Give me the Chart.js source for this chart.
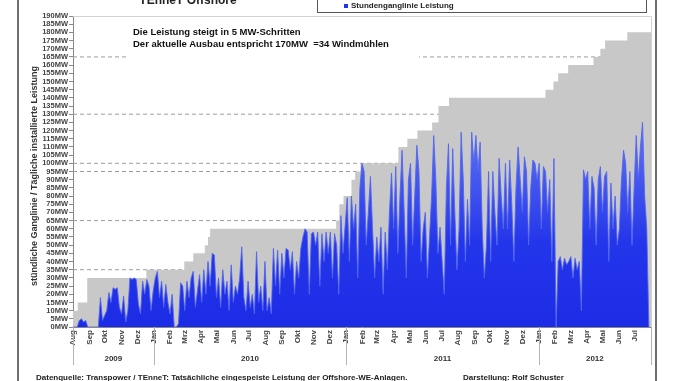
<!DOCTYPE html>
<html>
<head>
<meta charset="utf-8">
<script src="https://cdn.jsdelivr.net/npm/chart.js@4.4.1/dist/chart.umd.min.js"></script>
<style>
body { margin: 0; background: #fff; }
#wrap { position: relative; width: 678px; height: 381px; overflow: hidden; font-family: "Liberation Sans", Arial, sans-serif; font-weight: bold; color: #222; }
canvas { position: absolute; left: 0; top: 0; }
.edge { position: absolute; top: 0; width: 2px; height: 381px; background: #6e6e6e; }
#title { position: absolute; left: 188px; top: -6px; transform: translateX(-50%); font-size: 12px; line-height: 12px; white-space: nowrap; }
#legend { position: absolute; left: 317px; top: -10px; width: 328px; height: 21px; border: 1px solid #555; background: #fff; }
#legend span.txt { position: absolute; left: 33px; top: 10px; font-size: 8px; line-height: 10px; white-space: nowrap; }
#legend span.box { position: absolute; left: 26px; top: 13px; width: 4px; height: 4px; background: #2234e8; }
#note { position: absolute; left: 127px; top: 26px; width: 292px; height: 36px; background: #fff; font-size: 9.5px; line-height: 12px; color: #111; }
#note div { padding-left: 6px; }
#ytitle { position: absolute; left: 34px; top: 176px; transform: translate(-50%, -50%) rotate(-90deg); font-size: 9px; white-space: nowrap; color: #333; }
.foot { position: absolute; top: 373px; font-size: 8px; line-height: 10px; white-space: nowrap; color: #222; }
</style>
</head>
<body>
<div id="wrap">
  <canvas id="chart" width="678" height="381"></canvas>
  <div class="edge" style="left:17px"></div>
  <div class="edge" style="left:655px"></div>
  <div id="title">TEnneT Offshore</div>
  <div id="legend"><span class="box"></span><span class="txt">Stundenganglinie Leistung</span></div>
  <div id="note">
    <div>Die Leistung steigt in 5 MW-Schritten</div>
    <div>Der aktuelle Ausbau entspricht 170MW&nbsp; =34 Windmühlen</div>
  </div>
  <div id="ytitle">stündliche Ganglinie / Tägliche installierte Leistung</div>
  <div class="foot" style="left:36px">Datenquelle: Transpower / TEnneT: Tatsächliche eingespeiste Leistung der Offshore-WE-Anlagen.</div>
  <div class="foot" style="left:463px">Darstellung: Rolf Schuster</div>
</div>
<script>
// days counted from 1 Aug 2009
const totalDays = 1096;
const stepDays = 4;

const monthStarts = [0, 31, 61, 92, 122, 153, 184, 212, 243, 273, 304, 334, 365, 396, 426, 457, 487,
  518, 549, 577, 608, 638, 669, 699, 730, 761, 791, 822, 852, 883, 914, 943, 974, 1004, 1035, 1065];
const monthLabels = ['Aug', 'Sep', 'Okt', 'Nov', 'Dez',
  'Jan', 'Feb', 'Mrz', 'Apr', 'Mai', 'Jun', 'Jul', 'Aug', 'Sep', 'Okt', 'Nov', 'Dez',
  'Jan', 'Feb', 'Mrz', 'Apr', 'Mai', 'Jun', 'Jul', 'Aug', 'Sep', 'Okt', 'Nov', 'Dez',
  'Jan', 'Feb', 'Mrz', 'Apr', 'Mai', 'Jun', 'Jul'];
const yearBounds = [0, 153, 518, 883, 1096];
const yearLabels = ['2009', '2010', '2011', '2012'];

// installed capacity, step changes (day, MW)
const capDays = [0, 9, 27, 139, 211, 228, 250, 256, 260, 499, 505, 513, 528, 535, 545, 617, 634, 653, 681, 693, 713,
  896, 911, 920, 939, 987, 1000, 1009, 1051, 1096];
const capMW = [10, 15, 30, 35, 40, 45, 50, 55, 60, 65, 75, 80, 90, 95, 100, 110, 115, 120, 125, 135, 140,
  145, 150, 155, 160, 165, 170, 175, 180, 180];

// hourly output, one reading every 4 days (MW)
const blueMW = [
  0, 0, 0, 4, 5, 3, 4, 0,            // Aug 09
  0, 0, 0, 0, 0, 18, 4,              // Sep
  7, 10, 21, 15, 24, 23, 24, 12,     // Okt
  8, 19, 3, 10, 30, 29, 30, 29,      // Nov
  14, 8, 28, 20, 29, 25, 10,         // Dez
  22, 30, 34, 18, 28, 12, 26, 15,    // Jan 10
  8, 20, 0, 0, 2, 27, 25,
  10, 28, 18, 30, 34, 12, 22, 32,
  15, 35, 20, 40, 25, 45, 44, 18,
  30, 12, 35, 20, 28, 10, 38,
  15, 25, 20, 30, 49, 18, 10, 28,
  12, 20, 8, 46, 15, 25, 10, 40,
  10, 18, 8, 48, 25, 47, 20,
  45, 30, 48, 47, 35, 46, 20, 40,
  30, 48, 55, 60, 58, 20, 57, 58,
  50, 58, 25, 57, 40, 58, 45,
  58, 30, 57, 50, 20, 68, 45, 62,
  79, 40, 80, 60, 75, 30, 85, 100,   // Jan 11
  95, 50, 70, 92, 60, 30, 55,
  40, 61, 20, 58, 35, 70, 94,
  60, 98, 45, 80, 108, 70, 30, 90,
  100, 50, 80, 111, 95, 40, 60, 70,
  30, 55, 80, 117, 90, 45, 61,
  40, 20, 85, 112, 50, 109, 70, 35,
  60, 119, 90, 40, 78, 50, 119, 100,
  117, 95, 113, 60, 30, 50, 95,
  40, 95, 70, 50, 103, 80, 60, 100,
  60, 102, 75, 40, 85, 110, 90,
  70, 104, 95, 50, 85, 102, 100, 90,
  100, 60, 98, 95, 70, 90, 40, 103,  // Jan 12
  0, 40, 43, 35, 42, 38, 40,
  43, 30, 42, 35, 40, 10, 96, 90,
  95, 60, 92, 85, 50, 90, 98,
  70, 92, 95, 40, 88, 60, 80, 50,
  60, 90, 108, 100, 70, 95, 50, 85,
  117, 90, 110, 125, 80, 60, 0       // Jul 12
];

const dashLevels = [165, 130, 100, 95, 65, 35];

const fontFam = '"Liberation Sans", Arial, sans-serif';

// blue gets lighter towards the thin spike tips
function blueFill(context) {
  const { chart } = context;
  const area = chart.chartArea;
  if (!area) return 'rgb(32,50,232)';
  const y = chart.scales.y;
  const g = chart.ctx.createLinearGradient(0, y.getPixelForValue(0), 0, y.getPixelForValue(130));
  g.addColorStop(0, 'rgb(28,44,230)');
  g.addColorStop(0.4, 'rgb(36,54,234)');
  g.addColorStop(1, 'rgb(105,122,242)');
  return g;
}

// year labels and separators under the month axis, light frame top/right
const yearPlugin = {
  id: 'years',
  afterDraw(chart) {
    const { ctx, chartArea } = chart;
    const x = chart.scales.x;
    ctx.save();
    ctx.strokeStyle = '#d2d2d2';
    ctx.lineWidth = 1;
    ctx.beginPath();
    ctx.moveTo(chartArea.left, chartArea.top + 0.5);
    ctx.lineTo(chartArea.right + 0.5, chartArea.top + 0.5);
    ctx.lineTo(chartArea.right + 0.5, chartArea.bottom);
    ctx.stroke();

    ctx.strokeStyle = '#b4b4b4';
    yearBounds.forEach(d => {
      const px = Math.round(x.getPixelForValue(d)) + 0.5;
      ctx.beginPath();
      ctx.moveTo(px, chartArea.bottom);
      ctx.lineTo(px, chartArea.bottom + 38);
      ctx.stroke();
    });
    ctx.fillStyle = '#333';
    ctx.font = 'bold 8px ' + fontFam;
    ctx.textAlign = 'center';
    ctx.textBaseline = 'middle';
    yearLabels.forEach((t, i) => {
      const mid = (yearBounds[i] + yearBounds[i + 1]) / 2;
      ctx.fillText(t, x.getPixelForValue(mid), chartArea.bottom + 32);
    });
    ctx.restore();
  }
};

const ctx = document.getElementById('chart').getContext('2d');
const chart = new Chart(ctx, {
  type: 'line',
  data: {
    datasets: [
      {
        label: 'Stundenganglinie Leistung',
        data: blueMW.map((v, i) => ({ x: i * stepDays, y: v })),
        borderColor: 'rgba(80,100,240,0.85)',
        borderWidth: 1,
        backgroundColor: blueFill,
        fill: 'origin',
        pointRadius: 0,
        tension: 0
      },
      {
        label: 'installierte Leistung',
        data: capDays.map((d, i) => ({ x: d, y: capMW[i] })),
        stepped: true,
        borderWidth: 0,
        backgroundColor: '#c8c8c8',
        fill: 'origin',
        pointRadius: 0
      },
      ...dashLevels.map(v => ({
        label: v + 'MW',
        data: [{ x: 0, y: v }, { x: totalDays, y: v }],
        borderColor: '#9c9c9c',
        borderWidth: 1,
        borderDash: [4, 3],
        pointRadius: 0,
        fill: false
      }))
    ]
  },
  options: {
    responsive: false,
    animation: false,
    layout: { padding: { left: 33, right: 27, top: 16, bottom: 14 } },
    plugins: {
      legend: { display: false },
      tooltip: { enabled: false }
    },
    scales: {
      x: {
        type: 'linear',
        min: 0,
        max: totalDays,
        afterBuildTicks: s => { s.ticks = monthStarts.map(v => ({ value: v })); },
        afterFit: s => { s.height = 40; },
        ticks: {
          autoSkip: false,
          minRotation: 90,
          maxRotation: 90,
          padding: 3,
          color: '#444',
          font: { family: fontFam, size: 8, weight: 'bold' },
          callback: (v, i) => monthLabels[i]
        },
        grid: { display: true, drawOnChartArea: false, drawTicks: false, color: '#888' },
        border: { color: '#888' }
      },
      y: {
        min: 0,
        max: 190,
        afterFit: s => { s.width = 40; },
        ticks: {
          stepSize: 5,
          autoSkip: false,
          padding: 1,
          color: '#444',
          font: { family: fontFam, size: 7.5, weight: 'bold' },
          callback: v => v + 'MW'
        },
        grid: { drawOnChartArea: false, tickLength: 4, color: '#888' },
        border: { color: '#888' }
      }
    }
  },
  plugins: [yearPlugin]
});
</script>
</body>
</html>
